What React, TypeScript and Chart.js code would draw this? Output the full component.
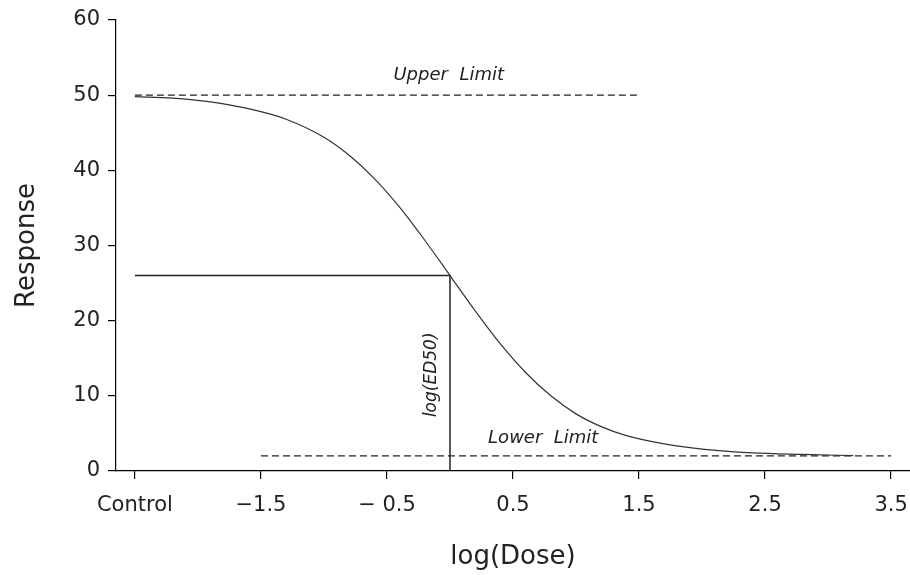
import React, { useEffect, useRef } from "react";
import { Chart, registerables } from "chart.js";

Chart.register(...registerables);

// Fitted dose-response curve
const curveX = [-2.5, -2.2, -1.9, -1.6, -1.3, -1.0, -0.8, -0.6, -0.4, -0.2, 0, 0.2, 0.4, 0.6, 0.8, 1.0, 1.2, 1.4, 1.7, 2.0, 2.4, 2.8, 3.2];
const curveY = [49.8, 49.6, 49.1, 48.2, 46.8, 44.4, 42.0, 38.9, 35.1, 30.7, 26.0, 21.3, 16.9, 13.1, 10.0, 7.6, 5.9, 4.7, 3.6, 2.9, 2.4, 2.2, 2.05];

// Reference lines
const upperLimitX = [-2.5, 1.5];
const upperLimitY = [50, 50];
const lowerLimitX = [-1.5, 3.5];
const lowerLimitY = [2, 2];
const ed50X = 0;
const ed50Y = 26;
const controlX = -2.5;

// Axis ticks
const xTickValues = [-2.5, -1.5, -0.5, 0.5, 1.5, 2.5, 3.5];
const xTickLabels = ["Control", "\u22121.5", "\u2212 0.5", "0.5", "1.5", "2.5", "3.5"];
const yTickValues = [0, 10, 20, 30, 40, 50, 60];

// Annotations: text and anchor in data units
const annotationTexts = ["Upper  Limit", "Lower  Limit", "log(ED50)"];
const annotationX = [-0.01, 0.74, -0.15];
const annotationY = [52.7, 4.4, 12.8];
const annotationRotated = [false, false, true];

const zip = (xs: number[], ys: number[]) => xs.map((x, i) => ({ x, y: ys[i] }));

const annotationPlugin = {
  id: "annotations",
  afterDatasetsDraw(chart: any) {
    const { ctx, scales } = chart;
    ctx.save();
    ctx.fillStyle = "#222";
    ctx.textAlign = "center";
    ctx.textBaseline = "middle";
    annotationTexts.forEach((t, i) => {
      const px = scales.x.getPixelForValue(annotationX[i]);
      const py = scales.y.getPixelForValue(annotationY[i]);
      ctx.save();
      ctx.font = annotationRotated[i] ? "oblique 17px 'DejaVu Sans'" : "oblique 18px 'DejaVu Sans'";
      ctx.translate(px, py);
      if (annotationRotated[i]) ctx.rotate(-Math.PI / 2);
      ctx.fillText(t, 0, 0);
      ctx.restore();
    });
    ctx.restore();
  },
};

export default function App() {
  const ref = useRef<HTMLCanvasElement | null>(null);
  useEffect(() => {
    if (!ref.current) return;
    const chart = new Chart(ref.current, {
      type: "line",
      data: {
        datasets: [
          {
            data: zip(curveX, curveY),
            borderColor: "#333",
            borderWidth: 1.2,
            pointRadius: 0,
            cubicInterpolationMode: "monotone",
            fill: false,
          },
          {
            data: zip(upperLimitX, upperLimitY),
            borderColor: "#222",
            borderWidth: 1.3,
            borderDash: [7, 4],
            pointRadius: 0,
            fill: false,
          },
          {
            data: zip(lowerLimitX, lowerLimitY),
            borderColor: "#222",
            borderWidth: 1.3,
            borderDash: [7, 4],
            pointRadius: 0,
            fill: false,
          },
          {
            data: [
              { x: controlX, y: ed50Y },
              { x: ed50X, y: ed50Y },
              { x: ed50X, y: 0 },
            ],
            borderColor: "#222",
            borderWidth: 1.5,
            pointRadius: 0,
            tension: 0,
            fill: false,
          },
        ],
      },
      options: {
        animation: false,
        responsive: false,
        layout: { padding: { top: 20, right: 0, left: 0, bottom: 0 } },
        plugins: { legend: { display: false }, tooltip: { enabled: false } },
        scales: {
          x: {
            type: "linear",
            min: -2.65,
            max: 3.65,
            afterFit: (s: any) => {
              s.height = 104;
              s.paddingLeft = 0;
              s.paddingRight = 0;
            },
            afterBuildTicks: (s: any) => {
              s.ticks = xTickValues.map((v) => ({ value: v }));
            },
            grid: { drawOnChartArea: false, drawTicks: true, tickLength: 8, color: "#000", lineWidth: 1.2 },
            border: { display: true, color: "#000", width: 1.2 },
            ticks: {
              color: "#222",
              font: { family: "'DejaVu Sans'", size: 21 },
              padding: 14,
              maxRotation: 0,
              autoSkip: false,
              callback: (v: any) => {
                const idx = xTickValues.indexOf(Number(v));
                return idx >= 0 ? xTickLabels[idx] : "";
              },
            },
            title: {
              display: true,
              text: "log(Dose)",
              color: "#222",
              font: { family: "'DejaVu Sans'", size: 26 },
              padding: { top: 0, bottom: 2 },
            },
          },
          y: {
            type: "linear",
            min: 0,
            max: 60,
            afterFit: (s: any) => {
              s.width = 116;
              s.paddingTop = 0;
              s.paddingBottom = 0;
            },
            afterBuildTicks: (s: any) => {
              s.ticks = yTickValues.map((v) => ({ value: v }));
            },
            grid: { drawOnChartArea: false, drawTicks: true, tickLength: 8, color: "#000", lineWidth: 1.2 },
            border: { display: true, color: "#000", width: 1.2 },
            ticks: {
              color: "#222",
              font: { family: "'DejaVu Sans'", size: 21 },
              padding: 8,
              autoSkip: false,
            },
            title: {
              display: true,
              text: "Response",
              color: "#222",
              font: { family: "'DejaVu Sans'", size: 26 },
              padding: { top: 12, bottom: 0 },
            },
          },
        },
      },
      plugins: [annotationPlugin],
    } as any);
    return () => chart.destroy();
  }, []);
  return (
    <div style={{ position: "absolute", left: 0, top: 0, width: 910, height: 575, background: "#fff" }}>
      <canvas ref={ref} width={910} height={575} />
    </div>
  );
}
